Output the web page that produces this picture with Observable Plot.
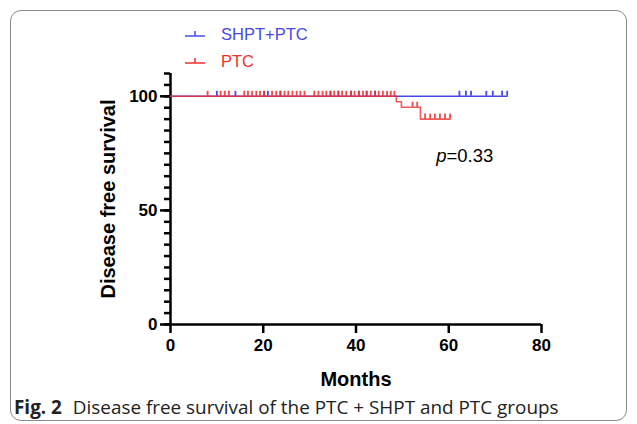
<!DOCTYPE html>
<html>
<head>
<meta charset="utf-8">
<script src="https://cdn.jsdelivr.net/npm/d3@7"></script>
<script src="https://cdn.jsdelivr.net/npm/@observablehq/plot@0.6"></script>
<style>
  html, body { margin: 0; padding: 0; background: #fff; }
  #wrap { position: relative; width: 637px; height: 424px; overflow: hidden; }
  #border { position: absolute; left: 10px; top: 10px; width: 617px; height: 411px; border: 1px solid #8a8a8a; border-radius: 11px; box-sizing: border-box; }
  #chart { position: absolute; left: 0; top: 0; }
  #chart g[aria-label$="axis tick"] { stroke-width: 2.5px; }
  #legend { position: absolute; left: 184px; top: 24px; font-family: "Liberation Sans", Arial, sans-serif; font-size: 16.5px; }
  .item { position: absolute; left: 0; white-space: nowrap; display: flex; align-items: center; }
  .item svg { margin-right: 15px; }
  #caption { position: absolute; left: 14px; top: 394px; font-family: "Open Sans", "Noto Sans", sans-serif; font-size: 18.9px; color: #222; white-space: nowrap; }
  #caption b { font-weight: 700; margin-right: 6px; }
</style>
</head>
<body>
<div id="wrap">
  <div id="border"></div>
  <div id="chart"></div>
  <div id="legend"></div>
  <div id="caption"><b>Fig. 2</b> Disease free survival of the PTC + SHPT and PTC groups</div>
</div>
<script>
// ---- data ----
const seriesNames = ["SHPT+PTC", "PTC"];
const seriesColors = ["#4848e8", "#f03030"];

// SHPT+PTC: no events, survival stays at 100
const shptTimes = [0, 72.6];
const shptSurv = [100, 100];
const shptCensor = [10.0, 14.0, 20.2, 21.0, 23.7, 34.5, 36.2, 38.9, 40.6, 42.3, 44.1, 62.3, 63.7, 64.8, 68.1, 69.5, 71.5, 72.6];

// PTC: Kaplan-Meier steps
const ptcTimes = [0, 48.7, 49.8, 53.9, 60.3];
const ptcSurv = [100, 97.6, 95.2, 90.0, 90.0];
const ptcCensor = [8.0, 10.8, 11.7, 12.6, 15.9, 16.7, 17.6, 18.5, 19.3, 20.2, 21.9, 22.8, 23.7, 24.6, 25.4, 26.3, 27.2, 28.0, 28.9,
  31.0, 31.9, 32.8, 33.6, 34.5, 35.3, 36.2, 37.0, 37.9, 38.9, 39.7, 40.6, 41.5, 42.3, 43.2, 44.1, 44.9, 45.8, 46.7, 47.5, 48.3,
  52.2, 53.2, 54.9, 56.0, 57.0, 58.1, 59.2, 60.3];

const xTicks = [0, 20, 40, 60, 80];
const yTicks = [0, 50, 100];
const yMinorTicks = d3.range(0, 111, 5);
const pValue = "=0.33";

// ---- build tables ----
const stepAt = (times, surv) => t => { let s = surv[0]; for (let i = 0; i < times.length; i++) if (times[i] <= t) s = surv[i]; return s; };
const ptcAt = stepAt(ptcTimes, ptcSurv);
const shptAt = stepAt(shptTimes, shptSurv);
const shptLine = shptTimes.map((t, i) => ({t, s: shptSurv[i]}));
const ptcLine = ptcTimes.map((t, i) => ({t, s: ptcSurv[i]}));
const shptC = shptCensor.map(t => ({t, s: shptAt(t)}));
const ptcC = ptcCensor.map(t => ({t, s: ptcAt(t)}));
const tickLen = 2.2; // censor tick height in survival units

const font = "'Liberation Sans', Arial, sans-serif";
const chart = Plot.plot({
  width: 637,
  height: 385,
  marginLeft: 170,
  marginRight: 96,
  marginTop: 73,
  marginBottom: 61,
  x: {domain: [0, 80]},
  y: {domain: [0, 110]},
  style: {fontFamily: font, background: "transparent", color: "#000", overflow: "visible"},
  marks: [
    Plot.axisY({ticks: yMinorTicks, tickSize: 6, tickFormat: () => "", strokeWidth: 2.5, label: null}),
    Plot.axisY({ticks: yTicks, tickSize: 10, tickPadding: 3, fontSize: 17, fontWeight: "bold", strokeWidth: 2.5, label: null}),
    Plot.axisX({ticks: xTicks, tickSize: 9, tickPadding: 5, fontSize: 17, fontWeight: "bold", strokeWidth: 2.5, label: null}),
    Plot.ruleX([0], {y1: 0, y2: 110, strokeWidth: 2.5, stroke: "#000"}),
    Plot.ruleY([0], {x1: 0, x2: 80, strokeWidth: 2.5, stroke: "#000"}),
    // SHPT+PTC
    Plot.line(shptLine, {x: "t", y: "s", stroke: seriesColors[0], strokeWidth: 1.6}),
    Plot.ruleX(shptC, {x: "t", y1: "s", y2: d => d.s + tickLen, stroke: seriesColors[0], strokeWidth: 1.8}),
    // PTC
    Plot.line(ptcLine, {x: "t", y: "s", curve: "step-after", stroke: seriesColors[1], strokeOpacity: 0.8, strokeWidth: 1.6}),
    Plot.ruleX(ptcC, {x: "t", y1: "s", y2: d => d.s + tickLen, stroke: seriesColors[1], strokeOpacity: 0.88, strokeWidth: 1.8}),
    // axis titles
    Plot.text(["Disease free survival"], {frameAnchor: "left", textAnchor: "middle", lineAnchor: "middle", rotate: -90, dx: -62, fontSize: 20, fontWeight: "bold"}),
    Plot.text(["Months"], {frameAnchor: "bottom", textAnchor: "middle", lineAnchor: "middle", dy: 55, fontSize: 20, fontWeight: "bold"}),
    // p value
    Plot.text(["p"], {x: 59.5, y: 74, textAnchor: "end", fontSize: 18.5, fontStyle: "italic"}),
    Plot.text([pValue], {x: 59.5, y: 74, textAnchor: "start", fontSize: 18.5})
  ]
});
document.getElementById("chart").appendChild(chart);

// legend
const legend = document.getElementById("legend");
seriesNames.forEach((name, i) => {
  const div = document.createElement("div");
  div.className = "item";
  div.style.top = (i * 27) + "px";
  div.style.color = seriesColors[i];
  div.innerHTML = `<svg width="22" height="20"><line x1="1" y1="12" x2="21" y2="12" stroke="${seriesColors[i]}" stroke-width="1.5"/><line x1="11" y1="12" x2="11" y2="7" stroke="${seriesColors[i]}" stroke-width="1.5"/></svg><span>${name}</span>`;
  legend.appendChild(div);
});
</script>
</body>
</html>
